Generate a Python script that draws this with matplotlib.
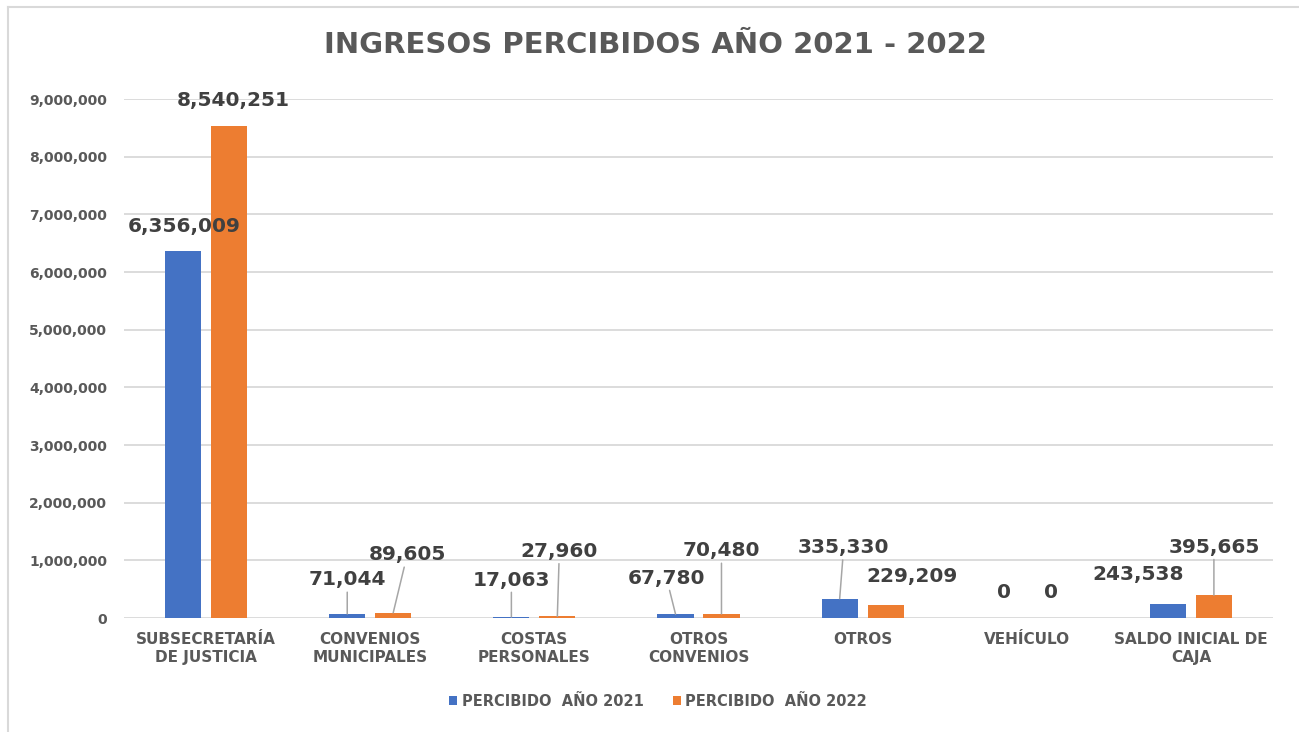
import matplotlib
matplotlib.use('Agg')
import matplotlib.pyplot as plt
from matplotlib.ticker import FuncFormatter, MultipleLocator
from matplotlib.patches import Patch
from matplotlib.lines import Line2D
import numpy as np

# ---------------- data ----------------
title = "INGRESOS PERCIBIDOS AÑO 2021 - 2022"
categories = ["SUBSECRETARÍA\nDE JUSTICIA", "CONVENIOS\nMUNICIPALES", "COSTAS\nPERSONALES",
              "OTROS\nCONVENIOS", "OTROS", "VEHÍCULO", "SALDO INICIAL DE\nCAJA"]
percibido_2021 = [6356009, 71044, 17063, 67780, 335330, 0, 243538]
percibido_2022 = [8540251, 89605, 27960, 70480, 229209, 0, 395665]
series_names = ["PERCIBIDO  AÑO 2021", "PERCIBIDO  AÑO 2022"]

# ---------------- layout / style ----------------
BLUE = "#4472C4"
ORANGE = "#ED7D31"
TXT = "#595959"
LBL = "#404040"
GRID = "#D9D9D9"
LEADER = "#A6A6A6"

# label offsets (pixels from bar top) and whether a leader line is shown
offsets_2021 = [(1, 25), (0, 34), (0, 37), (-9, 36), (4, 51), (0, 25), (-30, 29)]
leader_2021 = [False, True, True, True, True, False, False]
offsets_2022 = [(4, 25), (14, 58), (2, 65), (0, 63), (26, 28), (1, 25), (0, 48)]
leader_2022 = [False, True, True, True, False, False, True]

W, H = 1299, 732
fig = plt.figure(figsize=(W / 100, H / 100), dpi=100)
plt.rcParams['font.family'] = ['DejaVu Sans']

ax = fig.add_axes([124 / W, 1 - 618 / H, (1273 - 124) / W, (618 - 99) / H])

x = np.arange(len(categories))
bw = 0.22
off = 0.14
b1 = ax.bar(x - off, percibido_2021, width=bw, color=BLUE, zorder=2)
b2 = ax.bar(x + off, percibido_2022, width=bw, color=ORANGE, zorder=2)

ax.set_xlim(-0.5, len(categories) - 0.5)
ax.set_ylim(0, 9_000_000)
ax.yaxis.set_major_locator(MultipleLocator(1_000_000))
ax.yaxis.set_major_formatter(FuncFormatter(lambda v, p: f"{v:,.0f}"))
ax.grid(axis='y', color=GRID, linewidth=1.3, zorder=0)
ax.set_axisbelow(True)
for s in ax.spines.values():
    s.set_visible(False)
ax.tick_params(axis='both', length=0)
ax.tick_params(axis='y', pad=12, labelsize=10, labelcolor=TXT)
ax.tick_params(axis='x', pad=10, labelsize=11, labelcolor=TXT)
ax.set_xticks(x)
ax.set_xticklabels(categories, fontweight='bold', linespacing=1.3, va='top')
for t in ax.get_yticklabels():
    t.set_fontweight('bold')


def label_bars(xs, vals, offsets, leaders):
    for xi, v, (dx, dy), lead in zip(xs, vals, offsets, leaders):
        kw = {}
        if lead:
            kw['arrowprops'] = dict(arrowstyle='-', color=LEADER, lw=1.1,
                                    shrinkA=0, shrinkB=0)
        ax.annotate(f"{v:,.0f}", xy=(xi, v), xytext=(dx, dy),
                    textcoords='offset pixels', ha='center', va='center',
                    fontsize=14.5, fontweight='bold', color=LBL, zorder=5,
                    annotation_clip=False, **kw)


label_bars(x - off, percibido_2021, offsets_2021, leader_2021)
label_bars(x + off, percibido_2022, offsets_2022, leader_2022)

fig.text(655 / W, 1 - 45 / H, title, ha='center', va='center',
         fontsize=21, fontweight='bold', color=TXT)

handles = [Patch(facecolor=BLUE), Patch(facecolor=ORANGE)]
leg = fig.legend(handles, series_names, loc='center', bbox_to_anchor=(658 / W, 1 - 701 / H),
                 ncol=2, frameon=False, handlelength=0.55, handleheight=0.55,
                 handletextpad=0.3, columnspacing=2.0,
                 prop={'size': 10.5, 'weight': 'bold'})
for t in leg.get_texts():
    t.set_color(TXT)

# outer border (left and top)
fig.add_artist(Line2D([8 / W, 8 / W], [0, 1 - 7 / H], transform=fig.transFigure,
                      color=GRID, lw=1.5))
fig.add_artist(Line2D([8 / W, 1], [1 - 7 / H, 1 - 7 / H], transform=fig.transFigure,
                      color=GRID, lw=1.5))

fig.savefig("out.png", dpi=100, facecolor='white')
